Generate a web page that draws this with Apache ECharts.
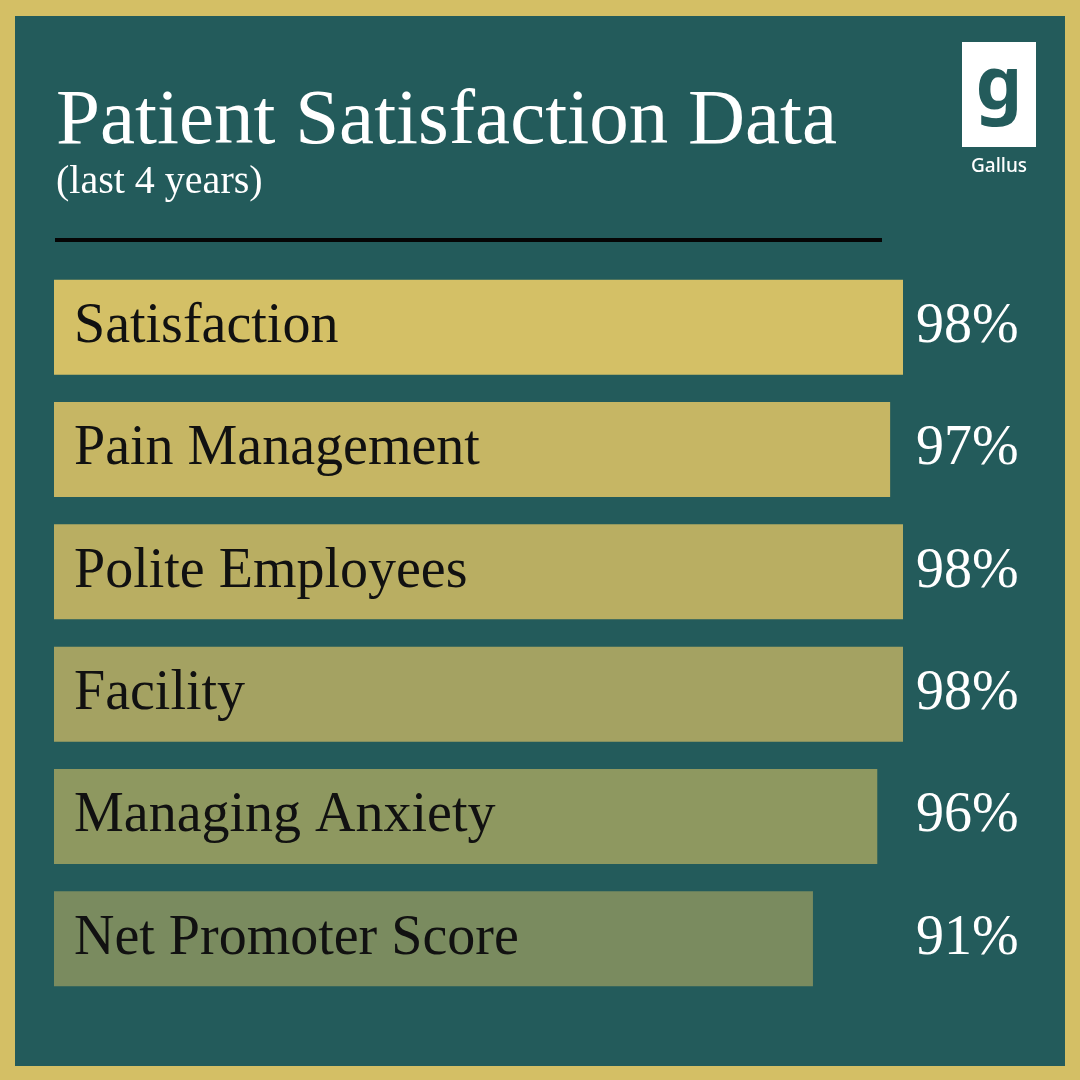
<!DOCTYPE html>
<html>
<head>
<meta charset="utf-8">
<title>Patient Satisfaction Data</title>
<script src="https://cdn.jsdelivr.net/npm/echarts@6/dist/echarts.min.js"></script>
<style>
    html, body { margin: 0; padding: 0; background: #d4bf65; }
    #chart { width: 1080px; height: 1080px; }
</style>
</head>
<body>
<div id="chart"></div>
<script>
// Values
const categories = ['Satisfaction', 'Pain Management', 'Polite Employees', 'Facility', 'Managing Anxiety', 'Net Promoter Score'];
const scores = [98, 97, 98, 98, 96, 91];
const scoreLabels = scores.map(function (v) { return v + '%'; });

const TEAL = '#235b5b';
const GOLD = '#d4bf65';
const BAR_COLORS = ['#d4c066', '#c6b664', '#b9ae62', '#a4a262', '#8e9860', '#7a8b5f'];
const SERIF = '"Liberation Serif", "DejaVu Serif", serif';

let chart = echarts.init(document.getElementById('chart'));

let options = {
    backgroundColor: GOLD,
    animation: false,
    title: {
        text: 'Patient Satisfaction Data',
        subtext: '(last 4 years)',
        left: 51,
        top: 78,
        itemGap: 0,
        textStyle: {
            color: '#ffffff',
            fontFamily: SERIF,
            fontWeight: 'normal',
            fontSize: 79
        },
        subtextStyle: {
            color: '#ffffff',
            fontFamily: SERIF,
            fontSize: 40
        }
    },
    grid: {
        left: 54,
        top: 266,
        width: 849,
        height: 734
    },
    xAxis: {
        type: 'value',
        min: 32,
        max: 98,
        show: false
    },
    yAxis: [
        {
            type: 'category',
            inverse: true,
            data: categories,
            show: false
        },
        {
            type: 'category',
            inverse: true,
            position: 'right',
            data: scoreLabels,
            axisLine: { show: false },
            axisTick: { show: false },
            axisLabel: {
                margin: 13,
                padding: [18, 0, 0, 0],
                color: '#ffffff',
                fontFamily: SERIF,
                fontSize: 56
            }
        }
    ],
    series: [
        {
            type: 'bar',
            yAxisIndex: 0,
            barWidth: 95,
            data: scores.map(function (v, i) {
                return { value: v, itemStyle: { color: BAR_COLORS[i] } };
            }),
            label: {
                show: true,
                position: 'insideLeft',
                distance: 20,
                padding: [6, 0, 0, 0],
                formatter: '{b}',
                color: '#111111',
                fontFamily: SERIF,
                fontSize: 56
            }
        }
    ],
    graphic: [
        /* Teal panel inside the gold frame. */
        {
            type: 'rect',
            z: -10,
            shape: { x: 15, y: 16, width: 1050, height: 1050 },
            style: { fill: TEAL }
        },
        /* Rule under the title. */
        {
            type: 'line',
            shape: { x1: 55, y1: 240, x2: 882, y2: 240 },
            style: { stroke: '#050505', lineWidth: 4 }
        },
        /* Gallus logo. */
        {
            type: 'rect',
            shape: { x: 962, y: 42, width: 74, height: 105 },
            style: { fill: '#ffffff' }
        },
        {
            type: 'text',
            x: 999,
            y: 88,
            style: {
                text: 'g',
                fill: TEAL,
                font: 'bold 74px "Noto Sans", sans-serif',
                textAlign: 'center',
                textVerticalAlign: 'middle'
            }
        },
        {
            type: 'text',
            x: 999,
            y: 167,
            style: {
                text: 'Gallus',
                fill: '#ffffff',
                font: '500 19px "Noto Sans", sans-serif',
                textAlign: 'center',
                textVerticalAlign: 'middle'
            }
        }
    ]
};

chart.setOption(options);

window.addEventListener('resize', function () {
    chart.resize();
});
</script>
</body>
</html>
